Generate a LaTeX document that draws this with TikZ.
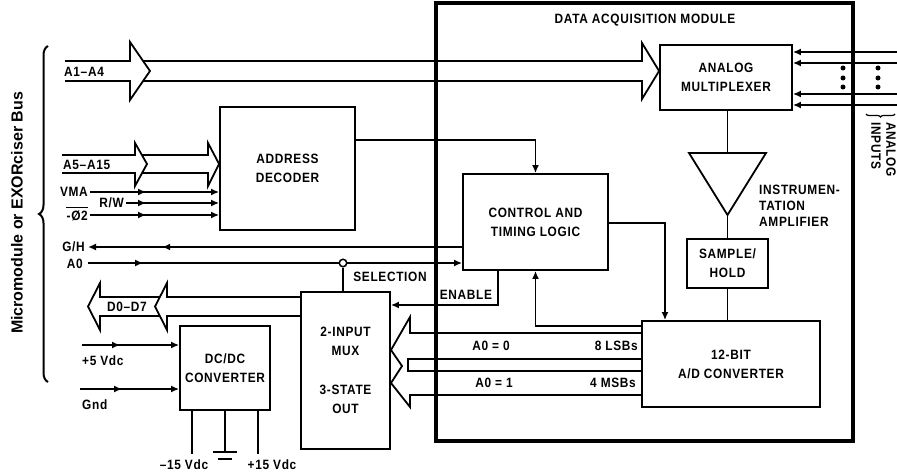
\documentclass[tikz,border=0pt]{standalone}
\usepackage{fontspec}
\setmainfont{Liberation Sans}
\newfontfamily\lbl{Liberation Sans}[LetterSpace=5,FakeStretch=0.88]
\usetikzlibrary{arrows.meta,decorations.pathreplacing,decorations.markings}
\begin{document}
\begin{tikzpicture}[x=1pt,y=-1pt,
  every node/.style={font=\lbl\bfseries\fontsize{13.5}{19}\selectfont, inner sep=0pt},
  wire/.style={line width=1.8pt},
  blk/.style={draw, line width=1.8pt, align=center},
  endarrow/.style={-{Latex[length=8pt,width=7pt]}},
  midarr/.style={postaction={decorate}, decoration={markings, mark=at position #1 with {\arrow{Latex[length=8pt,width=7pt]}}}},
  busline/.style={line width=1.8pt, line join=miter},
]
\useasboundingbox (0,0) rectangle (897,476);

% module
\node[draw, line width=4pt, minimum width=417pt, minimum height=438pt] (dam) at (644.5,222) {};
\node (damt) at (645,20) {DATA ACQUISITION MODULE};

% blocks
\node[blk, minimum width=132pt, minimum height=65pt] (amux) at (726,77.5) {ANALOG\\MULTIPLEXER};
\coordinate (trl) at (689,153); \coordinate (trr) at (766,153); \coordinate (tra) at (727.5,215);
\draw[wire, line join=miter] (trl) -- (trr) -- (tra) -- cycle;
\draw[wire] (tra |- amux.south) -- (tra |- trl);
\node[anchor=west, align=left, font=\lbl\bfseries\fontsize{13.5}{16}\selectfont] (amp) at (759,206) {INSTRUMEN-\\TATION\\AMPLIFIER};
\node[blk, minimum width=81pt, minimum height=49pt] (sh) at (727.5,263.5) {SAMPLE/\\HOLD};
\draw[wire] (tra) -- (sh.north);
\node[blk, minimum width=178pt, minimum height=86pt] (adc) at (731,364) {12-BIT\\A/D CONVERTER};
\draw[wire] (sh.south) -- (sh.south |- adc.north);

\node[blk, minimum width=145pt, minimum height=96pt] (ctl) at (535.5,222) {CONTROL AND\\TIMING LOGIC};
\node[blk, minimum width=135pt, minimum height=123pt] (dec) at (287.5,168.5) {ADDRESS\\DECODER};
\node[blk, minimum width=89pt, minimum height=157pt] (mux) at (345.5,370.5) {2-INPUT\\MUX\\[20pt]3-STATE\\OUT};
\node[blk, minimum width=90pt, minimum height=84pt] (dcdc) at (225,368) {DC/DC\\CONVERTER};

% internal connections
\coordinate (dy) at (0,140);
\draw[wire, endarrow] (dec.east |- dy) -| (ctl.north);
\coordinate (cay) at (0,223); \coordinate (cax) at (665,0);
\draw[wire, endarrow] (ctl.east |- cay) -| (cax |- adc.north);
\coordinate (acy) at (0,326);
\draw[wire, endarrow] (adc.west |- acy) -| (ctl.south);
\coordinate (enx) at (498,0); \coordinate (eny) at (0,305);
\draw[wire, endarrow] (enx |- ctl.south) |- (mux.east |- eny);
\node (enl) at (466,295) {ENABLE};

% G/H and A0
\coordinate (gh) at (88,247);
\draw[wire, endarrow, midarr=300pt] (ctl.west |- gh) -- (gh);
\node[anchor=east] (ghl) at (85,247) {G/H};
\coordinate (a0) at (88,263);
\draw[wire, endarrow, midarr=55pt] (a0) -- (ctl.west |- a0);
\node[anchor=east] (a0l) at (83,264) {A0};
\coordinate (selx) at (343,0);
\node[circle, draw, fill=white, line width=1.5pt, minimum size=7.5pt] (selc) at (selx |- a0) {};
\draw[wire] (selc) -- (selc |- mux.north);
\node (sell) at (390,277) {SELECTION};

% decoder control inputs
\coordinate (vma) at (90,192);
\draw[wire, endarrow, midarr=56pt] (vma) -- (dec.west |- vma);
\node[anchor=east] (vmal) at (88,192) {VMA};
\coordinate (rw) at (126,203);
\draw[wire, endarrow, midarr=20pt] (rw) -- (dec.west |- rw);
\node[anchor=east] (rwl) at (124,203) {R/W};
\coordinate (phi) at (90,215);
\draw[wire, endarrow, midarr=56pt] (phi) -- (dec.west |- phi);
\node[anchor=east] (phil) at (88,216) {-Ø2};
\draw[line width=1.4pt] ([yshift=3pt]phil.north west) -- ([yshift=3pt]phil.north east);

% A1-A4 bus
\draw[busline] (65,61) -- (130,61) -- (130,42) -- (150,71) -- (130,100) -- (130,81) -- (65,81);
\draw[busline] (143,61) -- (642,61) -- (642,43) -- (amux.west |- 0,71) -- (642,99) -- (642,81) -- (143,81);
\node[anchor=west] (a14) at (64,72) {A1–A4};

% A5-A15 bus
\draw[busline] (62,155) -- (135,155) -- (135,143) -- (147,164) -- (135,186) -- (135,173) -- (62,173);
\draw[busline] (142,155) -- (208,155) -- (208,143) -- (dec.west |- 0,164) -- (208,186) -- (208,173) -- (142,173);
\node[anchor=west] (a515) at (63,165) {A5–A15};

% D0-D7 bus
\draw[busline] (mux.west |- 0,297) -- (167,297) -- (167,283) -- (155,306.5) -- (167,330) -- (167,316) -- (mux.west |- 0,316);
\draw[busline] (160,297) -- (100,297) -- (100,283) -- (88,306.5) -- (100,330) -- (100,316) -- (160,316);
\node (d07) at (127,306.5) {D0–D7};

% ADC data buses
\draw[busline] (adc.west |- 0,333) -- (410,333) -- (410,317) -- (391,350) -- (402,366) -- (391,383) -- (410,407) -- (410,395) -- (adc.west |- 0,395);
\draw[busline] (adc.west |- 0,359) -- (408,359) -- (408,371) -- (adc.west |- 0,371);
\node (b0l) at (491,346) {A0 = 0};
\node[anchor=east] (b0r) at (638,346) {8 LSBs};
\node (b1l) at (494,383) {A0 = 1};
\node[anchor=east] (b1r) at (636,383) {4 MSBs};

% power
\coordinate (p5) at (82,345);
\draw[wire, endarrow, midarr=38pt] (p5) -- (dcdc.west |- p5);
\node[anchor=west] (p5l) at (82,361) {+5 Vdc};
\coordinate (gnd) at (80,389);
\draw[wire, endarrow, midarr=42pt] (gnd) -- (dcdc.west |- gnd);
\node[anchor=west] (gndl) at (82,405) {Gnd};
\coordinate (pm) at (192,454); \coordinate (pg) at (225,452); \coordinate (pp) at (258,454);
\draw[wire] (pm |- dcdc.south) -- (pm);
\draw[wire] (pg |- dcdc.south) -- (pg);
\draw[wire] (pp |- dcdc.south) -- (pp);
\draw[wire] (213,452) -- (237,452);
\draw[wire] (218,459) -- (232,459);
\node (m15) at (184,465) {–15 Vdc};
\node (p15) at (272,465) {+15 Vdc};

% analog inputs
\foreach \y [count=\i] in {52,63,94,105} {
  \coordinate (ai\i) at (897,\y);
  \draw[wire, endarrow] (ai\i) -- (amux.east |- ai\i);
}
\foreach \x in {843,878} \foreach \y in {68,78,87} \fill (\x,\y) circle (2.5pt);
\draw[line width=1.2pt, decorate, decoration={brace, amplitude=3pt}] (895,114) -- (866,114);
\node[rotate=-90, anchor=north west, align=left, font=\lbl\bfseries\fontsize{13.5}{15}\selectfont] (ail) at (896,122) {ANALOG\\INPUTS};

% bus brace and label
\draw[line width=2pt, decorate, decoration={brace, amplitude=9pt}] (48,382) -- (48,46);
\node[rotate=90, font=\bfseries\fontsize{16}{16}\selectfont] (busl) at (17,213) {Micromodule or EXORciser Bus};
\end{tikzpicture}
\end{document}
